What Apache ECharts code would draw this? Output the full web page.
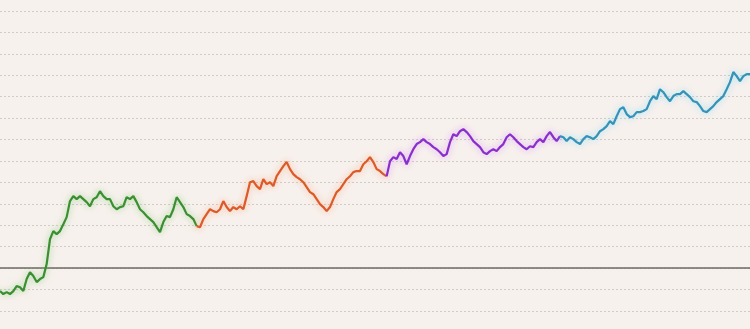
<!DOCTYPE html>
<html>
<head>
<meta charset="utf-8">
<script src="https://cdn.jsdelivr.net/npm/echarts@6/dist/echarts.min.js"></script>
<style>
html,body{margin:0;padding:0;background:#f7f1ed;}
#chart{width:750px;height:329px;}
</style>
</head>
<body>
<div id="chart"></div>
<script>
// Segment values (index order); each segment starts at the previous one's last point
const greenValues = [-10.7,-12.1,-11.2,-12.1,-10.7,-8.4,-8.9,-10.7,-5.1,-1.9,-3.7,-6.5,-5.1,-4.2,1.9,13.5,17.3,15.9,17.3,20.5,23.8,31.3,33.6,32.2,33.6,32.2,30.8,28.9,32.2,33.1,35.9,33.6,32.2,32.2,28.9,27.5,28.5,28.9,33.1,32.2,33.6,30.8,27.5,26.1,24.3,22.9,21.5,19.1,16.8,21.5,24.3,23.8,27.5,33.1,30.8,28.5,25.2,24.3,22.9,19.6];
const orangeValues = [19.6,19.1,22.9,25.2,27.5,26.6,26.1,27.5,31.3,28.5,26.6,28.5,27.5,28.9,27.5,33.6,40.1,40.6,38.3,36.9,41.5,39.2,40.1,38.3,42.9,45.3,47.6,49.5,46.2,43.9,42.5,41.5,40.1,37.8,35.5,34.5,32.2,29.9,28.5,26.6,28.5,32.2,35.5,36.9,39.2,41.5,42.9,44.8,45.3,45.3,48.5,49.9,51.8,49.5,46.2,45.3,43.9,42.9];
const purpleValues = [42.9,49.9,51.8,50.9,54.1,52.3,48.5,52.3,55.5,57.9,58.8,60.2,58.8,57.9,56.5,55.5,54.1,52.3,53.2,58.8,62.5,61.6,63.9,64.9,63.5,61.6,59.3,57.9,56.5,54.1,53.2,54.6,55.5,54.6,56.5,57.9,61.1,62.5,61.1,59.3,57.9,56.5,55.5,56.9,56.5,58.8,60.2,58.8,61.6,63.5,61.1,59.3,61.6];
const blueValues = [61.6,61.1,59.3,61.1,60.2,58.8,57.9,60.2,61.6,61.1,60.2,61.6,63.9,64.9,66.3,68.6,67.2,70.9,74.2,75.1,71.9,70.5,70.9,72.8,72.8,73.3,74.2,77.9,80.3,78.9,83.5,82.1,79.8,77.9,80.3,81.2,81.2,82.6,81.2,79.8,77.9,77.5,75.6,73.3,72.8,74.2,75.6,77.5,78.9,80.3,83.5,86.8,91.5,89.6,87.3,89.6,90.5,90.5];

const yTicks = {min: -20, max: 120, interval: 10};

const segments = [
  {name: 'A', values: greenValues, color: '#3a8f30', glow: 'rgba(90,190,80,0.6)'},
  {name: 'B', values: orangeValues, color: '#dc5a28', glow: 'rgba(250,140,90,0.6)'},
  {name: 'C', values: purpleValues, color: '#8a2fcc', glow: 'rgba(205,125,250,0.7)'},
  {name: 'D', values: blueValues, color: '#3593b9', glow: 'rgba(110,215,245,0.7)'}
];

// Build padded series on a shared category axis
const total = segments.reduce((s, g, i) => s + g.values.length - (i > 0 ? 1 : 0), 0);
const categories = Array.from({length: total}, (_, i) => String(i));
let start = 0;
const series = segments.map((seg, i) => {
  const data = new Array(total).fill(null);
  seg.values.forEach((v, k) => { data[start + k] = v; });
  const s = {
    name: seg.name,
    type: 'line',
    data: data,
    showSymbol: false,
    symbol: 'none',
    connectNulls: false,
    animation: false,
    z: 3,
    lineStyle: {color: seg.color, width: 2.2, shadowColor: seg.glow, shadowBlur: 7},
    itemStyle: {color: seg.color}
  };
  start += seg.values.length - 1;
  return s;
});

const chart = echarts.init(document.getElementById('chart'));
chart.setOption({
  backgroundColor: '#f7f1ed',
  animation: false,
  grid: {left: 0, right: 0, top: 11, bottom: 18, containLabel: false},
  xAxis: {
    type: 'category',
    data: categories,
    boundaryGap: false,
    axisLine: {show: true, onZero: true, lineStyle: {color: '#6f6864', width: 1.5}},
    axisTick: {show: false},
    axisLabel: {show: false},
    splitLine: {show: false}
  },
  yAxis: {
    type: 'value',
    min: yTicks.min,
    max: yTicks.max,
    interval: yTicks.interval,
    axisLine: {show: false},
    axisTick: {show: false},
    axisLabel: {show: false},
    splitLine: {show: true, lineStyle: {color: '#d2ccc7', type: [2, 2], width: 1}}
  },
  series: series
});
</script>
</body>
</html>
